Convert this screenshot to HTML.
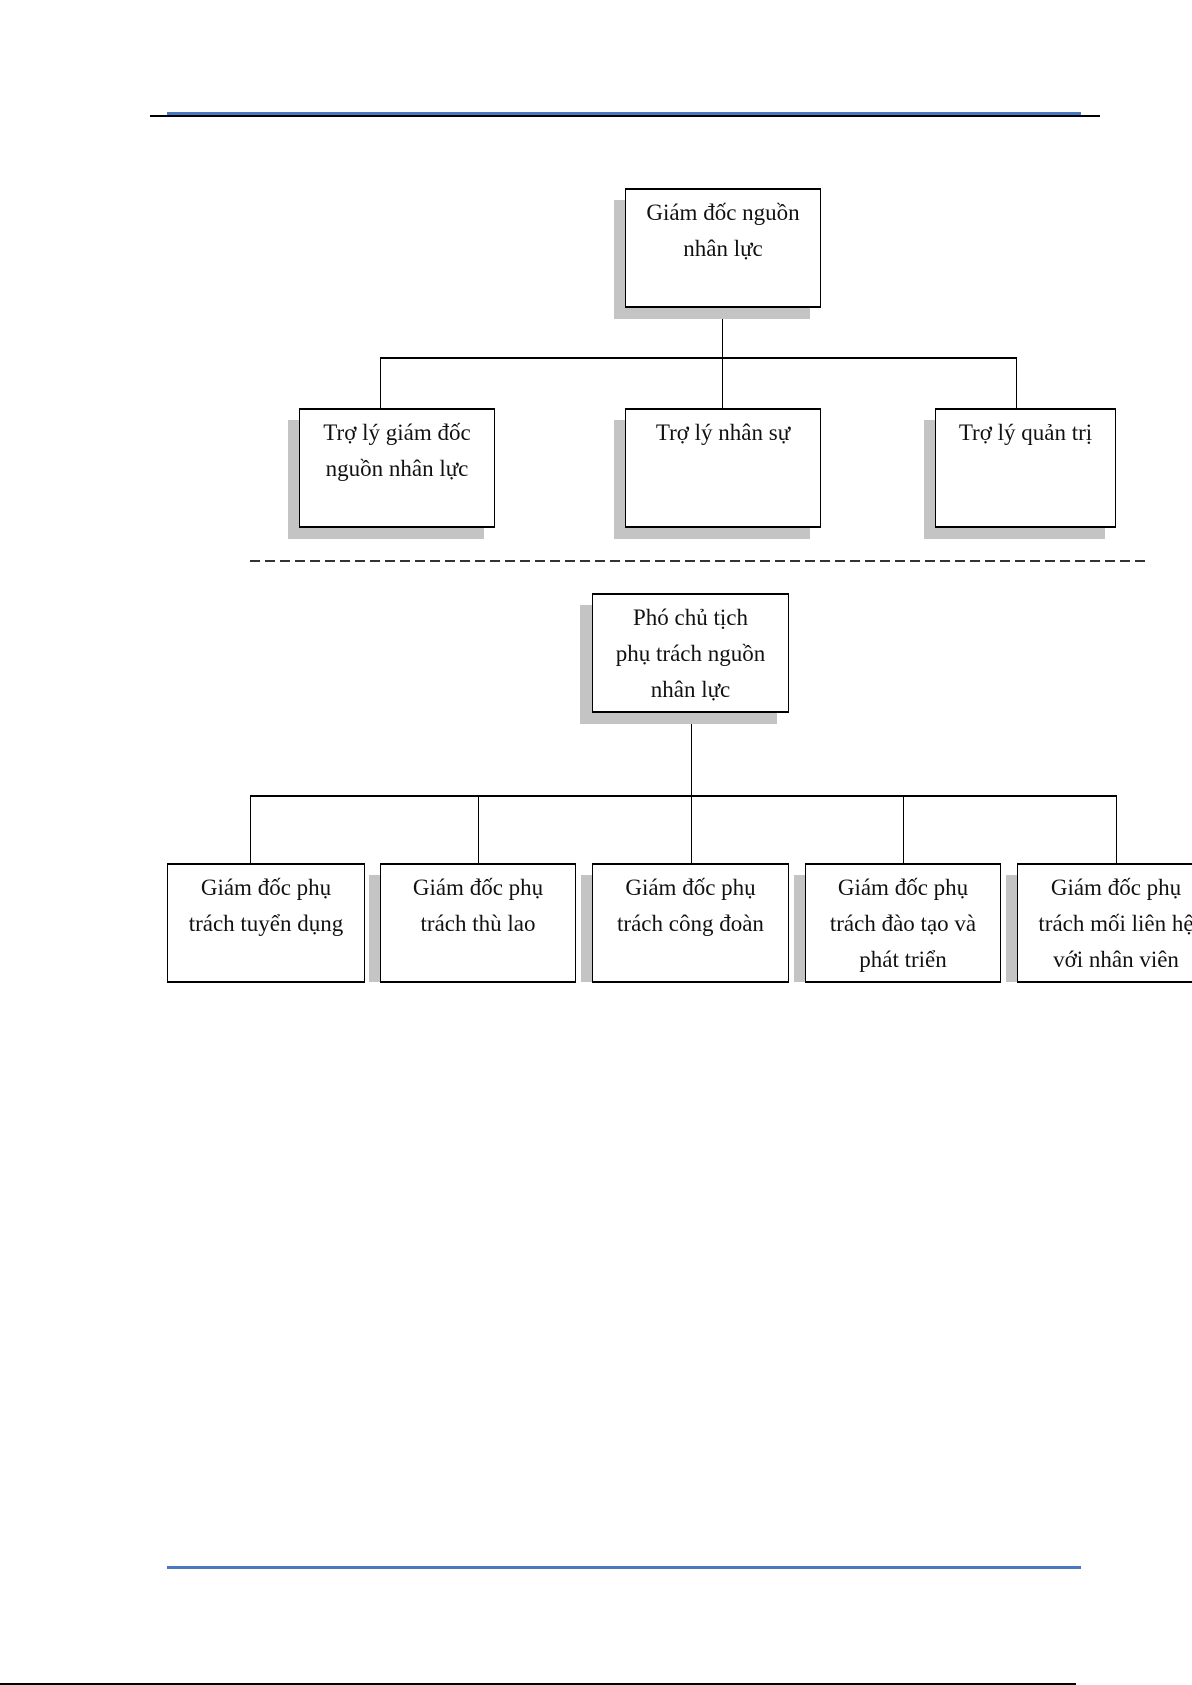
<!DOCTYPE html>
<html><head><meta charset="utf-8"><style>
body{margin:0;background:#fff;}
#p{position:relative;width:1192px;height:1685px;overflow:hidden;background:#fff;font-family:"Liberation Serif",serif;}
.b{position:absolute;background:#fff;border:1px solid #000;border-top-width:2px;border-bottom-width:2px;box-sizing:border-box;text-align:center;font-size:23px;line-height:36px;padding-top:5px;color:#111;}
.s{position:absolute;background:#c4c4c4;}
.l{position:absolute;background:#000;}
</style></head><body><div id="p">
<div class="l" style="left:150px;top:115px;width:950px;height:2px;"></div>
<div style="position:absolute;left:167px;top:112px;width:914px;height:3px;background:#4a78c0;"></div>

<div class="l" style="left:722px;top:307px;width:1px;height:101px;"></div>
<div class="l" style="left:380px;top:357px;width:637px;height:2px;"></div>
<div class="l" style="left:380px;top:358px;width:1px;height:50px;"></div>
<div class="l" style="left:1016px;top:358px;width:1px;height:50px;"></div>

<div class="s" style="left:614px;top:200px;width:196px;height:119px;"></div>
<div class="b" style="left:625px;top:188px;width:196px;height:120px;">Giám đốc nguồn<br>nhân lực</div>

<div class="s" style="left:288px;top:420px;width:196px;height:119px;"></div>
<div class="b" style="left:299px;top:408px;width:196px;height:120px;">Trợ lý giám đốc<br>nguồn nhân lực</div>
<div class="s" style="left:614px;top:420px;width:196px;height:119px;"></div>
<div class="b" style="left:625px;top:408px;width:196px;height:120px;">Trợ lý nhân sự</div>
<div class="s" style="left:924px;top:420px;width:181px;height:119px;"></div>
<div class="b" style="left:935px;top:408px;width:181px;height:120px;">Trợ lý quản trị</div>

<div style="position:absolute;left:250px;top:560px;width:898px;height:2px;background:repeating-linear-gradient(90deg,#333 0 10px,transparent 10px 15px);"></div>

<div class="l" style="left:691px;top:712px;width:1px;height:151px;"></div>
<div class="l" style="left:250px;top:795px;width:867px;height:2px;"></div>
<div class="l" style="left:250px;top:796px;width:1px;height:67px;"></div>
<div class="l" style="left:478px;top:796px;width:1px;height:67px;"></div>
<div class="l" style="left:903px;top:796px;width:1px;height:67px;"></div>
<div class="l" style="left:1116px;top:796px;width:1px;height:67px;"></div>

<div class="s" style="left:580px;top:605px;width:197px;height:119px;"></div>
<div class="b" style="left:592px;top:593px;width:197px;height:120px;">Phó chủ tịch<br>phụ trách nguồn<br>nhân lực</div>

<div class="s" style="left:369px;top:875px;width:20px;height:107px;"></div>
<div class="s" style="left:581px;top:875px;width:20px;height:107px;"></div>
<div class="s" style="left:794px;top:875px;width:20px;height:107px;"></div>
<div class="s" style="left:1006px;top:875px;width:20px;height:107px;"></div>

<div class="b" style="left:167px;top:863px;width:198px;height:120px;">Giám đốc phụ<br>trách tuyển dụng</div>
<div class="b" style="left:380px;top:863px;width:196px;height:120px;">Giám đốc phụ<br>trách thù lao</div>
<div class="b" style="left:592px;top:863px;width:197px;height:120px;">Giám đốc phụ<br>trách công đoàn</div>
<div class="b" style="left:805px;top:863px;width:196px;height:120px;">Giám đốc phụ<br>trách đào tạo và<br>phát triển</div>
<div class="b" style="left:1017px;top:863px;width:198px;height:120px;white-space:nowrap;">Giám đốc phụ<br>trách mối liên hệ<br>với nhân viên</div>

<div style="position:absolute;left:167px;top:1566px;width:914px;height:3px;background:#4a78c0;"></div>
<div class="l" style="left:0;top:1683px;width:1076px;height:2px;"></div>
</div></body></html>
